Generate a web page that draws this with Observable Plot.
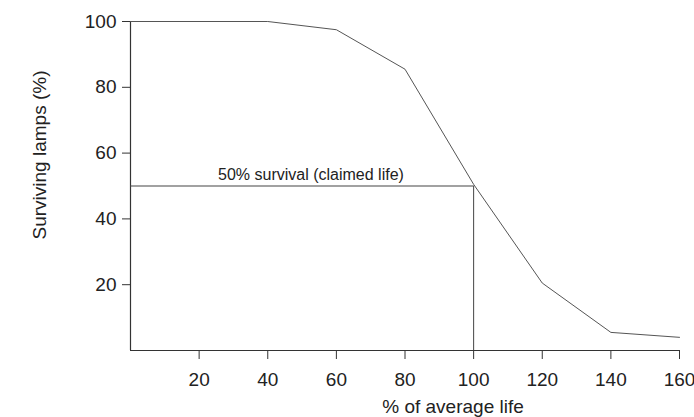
<!DOCTYPE html>
<html>
<head>
<meta charset="utf-8">
<script src="https://cdn.jsdelivr.net/npm/d3@7"></script>
<script src="https://cdn.jsdelivr.net/npm/@observablehq/plot@0.6"></script>
<style>
  html, body { margin: 0; padding: 0; background: #ffffff; }
  svg { display: block; }
</style>
</head>
<body>
<div id="chart"></div>
<script>
// % of average life (x) and surviving lamps (%) (y)
const life = [0, 40, 60, 80, 100, 120, 140, 160];
const surviving = [100, 100, 97.5, 85.5, 50.5, 20.5, 5.5, 4];
const xTicks = [20, 40, 60, 80, 100, 120, 140, 160];
const yTicks = [20, 40, 60, 80, 100];
const claimedLife = [100];
const claimedSurvival = [50];
const annotation = ["50% survival (claimed life)"];
const annotationX = [52.6];
const xLabel = "% of average life";
const yLabel = "Surviving lamps (%)";

const curve = life.map((x, i) => ({x, y: surviving[i]}));
const font = "'Liberation Sans', Arial, sans-serif";

const chart = Plot.plot({
  width: 694,
  height: 417,
  marginLeft: 130,
  marginRight: 15,
  marginTop: 21,
  marginBottom: 67,
  style: {fontFamily: font, background: "#ffffff", color: "#222"},
  x: {domain: [0, 160]},
  y: {domain: [0, 100]},
  marks: [
    Plot.axisX(xTicks, {tickSize: 9, tickPadding: 13, fontSize: 19, label: null, stroke: "#333", fill: "#222"}),
    Plot.axisY(yTicks, {tickSize: 8, tickPadding: 6, fontSize: 19, label: null, stroke: "#333", fill: "#222"}),
    // axis lines
    Plot.ruleX([0], {y1: 0, y2: 100, stroke: "#333", strokeWidth: 1.2}),
    Plot.ruleY([0], {x1: 0, x2: 160, stroke: "#333", strokeWidth: 1.2}),
    // claimed life reference lines
    Plot.ruleY(claimedSurvival, {x1: 0, x2: claimedLife[0], stroke: "#444", strokeWidth: 1.2}),
    Plot.ruleX(claimedLife, {y1: 0, y2: claimedSurvival[0], stroke: "#444", strokeWidth: 1}),
    // survival curve
    Plot.line(curve, {x: "x", y: "y", stroke: "#555", strokeWidth: 1}),
    // annotation
    Plot.text(annotation, {x: annotationX, y: claimedSurvival, text: d => d, lineAnchor: "bottom", dy: -6, fontSize: 16, fill: "#222"}),
    // axis titles
    Plot.text([xLabel], {frameAnchor: "bottom", text: d => d, textAnchor: "middle", dx: 48, dy: 62, lineAnchor: "bottom", fontSize: 19, fill: "#222"}),
    Plot.text([yLabel], {frameAnchor: "left", text: d => d, textAnchor: "middle", dx: -91, dy: -31, rotate: -90, lineAnchor: "middle", fontSize: 19, fill: "#222"})
  ]
});
document.getElementById("chart").appendChild(chart);
</script>
</body>
</html>
